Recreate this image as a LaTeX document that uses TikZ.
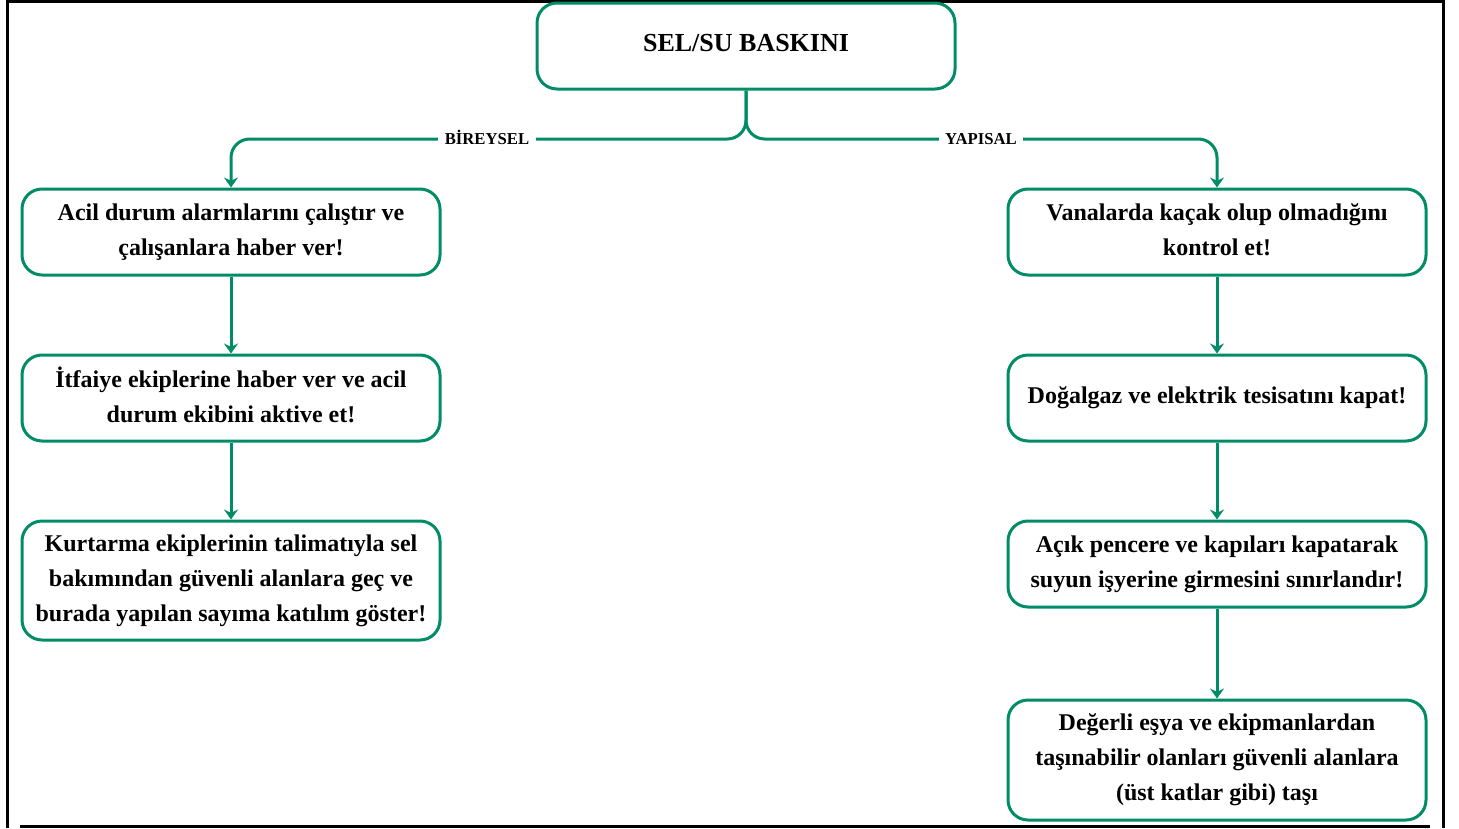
\documentclass[tikz,border=0pt]{standalone}
\usepackage{fontspec}
\setmainfont{Liberation Serif}
\usetikzlibrary{arrows.meta}
\definecolor{grn}{RGB}{0,140,102}
\newcommand{\tst}{\rule{0pt}{13pt}}
\newcommand{\bst}{\rule[-4.2pt]{0pt}{4.2pt}}
\tikzset{
  box/.style={draw=grn, line width=2.25pt, rounded corners=15pt, align=center,
    minimum width=313.5pt, minimum height=64.5pt, inner sep=0pt,
    font=\bfseries\fontsize{18}{26.25}\selectfont},
  conn/.style={draw=grn, line width=2.25pt, -{Stealth[length=7.5pt,width=10.5pt,inset=2.5pt]}},
  lab/.style={fill=white, inner xsep=5pt, inner ysep=2pt, text height=8.5pt, text depth=0pt,
    font=\bfseries\fontsize{12.5}{14}\selectfont},
  frame/.style={line width=2.25pt, draw=black}
}
\begin{document}
\begin{tikzpicture}[x=0.75pt,y=-0.75pt]
\useasboundingbox (0,0) rectangle (1459,828);
% frame
\draw[frame] (7,0) -- (7,828);
\draw[frame] (7,1.5) -- (1443,1.5);
\draw[frame] (1443,0) -- (1443,828);
\draw[frame] (20,826.5) -- (1430,826.5);
% nodes
\node[box, font=\bfseries\fontsize{19.5}{24}\selectfont] (top) at (746,46) {\tst SEL/SU BASKINI\bst};
\node[box] (l1) at (231,232) {\tst Acil durum alarmlarını çalıştır ve\\çalışanlara haber ver!\bst};
\node[box] (l2) at (231,398) {\tst İtfaiye ekiplerine haber ver ve acil\\durum ekibini aktive et!\bst};
\node[box, minimum height=89.25pt] (l3) at (231,580.5) {\tst Kurtarma ekiplerinin talimatıyla sel\\bakımından güvenli alanlara geç ve\\burada yapılan sayıma katılım göster!\bst};
\node[box] (r1) at (1217,232) {\tst Vanalarda kaçak olup olmadığını\\kontrol et!\bst};
\node[box] (r2) at (1217,398) {\tst Doğalgaz ve elektrik tesisatını kapat!\bst};
\node[box] (r3) at (1217,564) {\tst Açık pencere ve kapıları kapatarak\\suyun işyerine girmesini sınırlandır!\bst};
\node[box, minimum height=90pt] (r4) at (1217,760) {\tst Değerli eşya ve ekipmanlardan\\taşınabilir olanları güvenli alanlara\\(üst katlar gibi) taşı\bst};
% connectors
\coordinate (jy) at (0,139);
\draw[conn, rounded corners=14pt] (top.south) |- (l1.north |- jy) -- (l1.north);
\draw[conn, rounded corners=14pt] (top.south) |- (r1.north |- jy) -- (r1.north);
\node[lab] (bir) at (487,139) {BİREYSEL};
\node[lab] (yap) at (981,139) {YAPISAL};
\draw[conn] (l1) -- (l2);
\draw[conn] (l2) -- (l3);
\draw[conn] (r1) -- (r2);
\draw[conn] (r2) -- (r3);
\draw[conn] (r3) -- (r4);
\end{tikzpicture}
\end{document}
